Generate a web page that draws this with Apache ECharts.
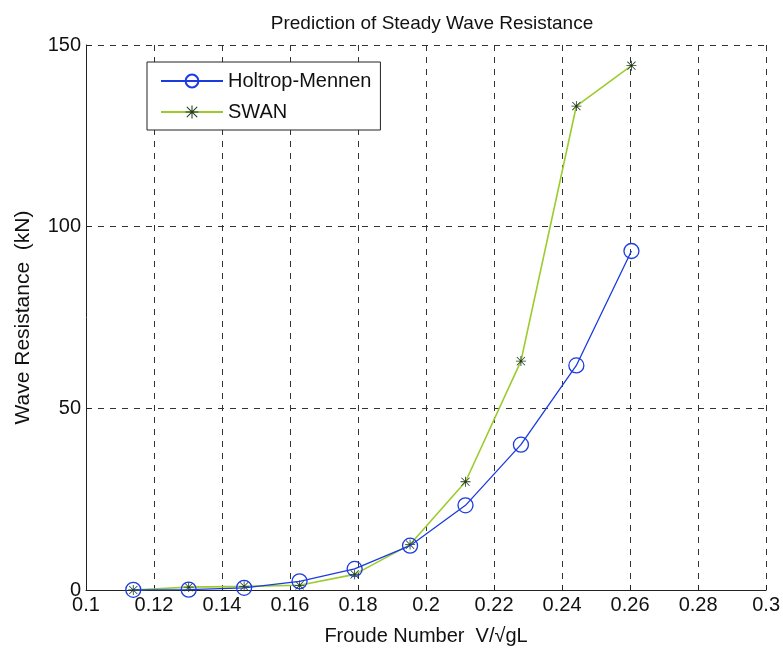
<!DOCTYPE html>
<html>
<head>
<meta charset="utf-8">
<script src="https://cdn.jsdelivr.net/npm/echarts@6/dist/echarts.min.js"></script>
<style>
  html, body { margin: 0; padding: 0; background: #fff; }
  #chart { width: 783px; height: 651px; }
</style>
</head>
<body>
<div id="chart"></div>
<script>
// Froude numbers (speeds 7..16 knots)
const froude = [0.1139, 0.1302, 0.1465, 0.1628, 0.1790, 0.1953, 0.2116, 0.2279, 0.2442, 0.2604];
// wave resistance (kN)
const holtrop = [0.05, 0.1, 0.6, 2.4, 5.8, 12.2, 23.3, 40.0, 61.8, 93.3];
const swan = [0.0, 0.8, 1.0, 1.3, 4.3, 12.5, 29.8, 63.0, 133.2, 144.3];

const font = 'Liberation Sans, Arial, sans-serif';
const gridLine = { show: true, lineStyle: { color: '#333', type: [6, 6], width: 1 } };

// asterisk marker
const star = 'path://M9.2,0h1.6v20h-1.6z M0,9.2h20v1.6h-20z M2.4,1.3l16.3,16.3l-1.1,1.1l-16.3,-16.3z M17.6,1.3l1.1,1.1l-16.3,16.3l-1.1,-1.1z';

const chart = echarts.init(document.getElementById('chart'));
chart.setOption({
  backgroundColor: '#fff',
  animation: false,
  title: {
    text: 'Prediction of Steady Wave Resistance',
    left: 427, top: 9, textAlign: 'center',
    textStyle: { fontFamily: font, fontSize: 19, fontWeight: 'normal', color: '#111' }
  },
  grid: { left: 86, right: 14, top: 45, bottom: 58 },
  legend: {
    left: 147, top: 62,
    orient: 'vertical',
    backgroundColor: '#fff',
    borderColor: '#222', borderWidth: 1,
    padding: [9, 9, 8, 13],
    itemGap: 11,
    itemWidth: 62, itemHeight: 16,
    textStyle: { fontFamily: font, fontSize: 20, color: '#111' },
    data: ['Holtrop-Mennen', 'SWAN']
  },
  xAxis: {
    type: 'value', min: 0.1, max: 0.3, interval: 0.02,
    name: 'Froude Number  V/\u221AgL', nameLocation: 'middle', nameGap: 36,
    nameTextStyle: { fontFamily: font, fontSize: 20, color: '#111' },
    axisLine: { lineStyle: { color: '#222', width: 1 } },
    axisTick: { inside: true, length: 5, lineStyle: { color: '#222' } },
    axisLabel: { fontFamily: font, fontSize: 20, color: '#111', margin: 5 },
    splitLine: gridLine
  },
  yAxis: {
    type: 'value', min: 0, max: 150, interval: 50,
    name: 'Wave Resistance  (kN)', nameLocation: 'middle', nameGap: 52,
    nameTextStyle: { fontFamily: font, fontSize: 21, color: '#111' },
    axisLine: { show: true, lineStyle: { color: '#222', width: 1 } },
    axisTick: { show: true, inside: true, length: 5, lineStyle: { color: '#222' } },
    axisLabel: { fontFamily: font, fontSize: 20, color: '#111', margin: 5 },
    splitLine: gridLine
  },
  series: [
    {
      name: 'Holtrop-Mennen', type: 'line',
      data: froude.map((f, i) => [f, holtrop[i]]),
      symbol: 'circle', symbolSize: 15,
      lineStyle: { color: '#1a3be0', width: 1.3 },
      itemStyle: { color: 'rgba(0,0,0,0)', borderColor: '#1a3be0', borderWidth: 1.3 },
      z: 3
    },
    {
      name: 'SWAN', type: 'line',
      data: froude.map((f, i) => [f, swan[i]]),
      symbol: star, symbolSize: 10,
      lineStyle: { color: '#9ccc2c', width: 1.6 },
      itemStyle: { color: '#1f3a20' },
      z: 2
    }
  ]
});
</script>
</body>
</html>
